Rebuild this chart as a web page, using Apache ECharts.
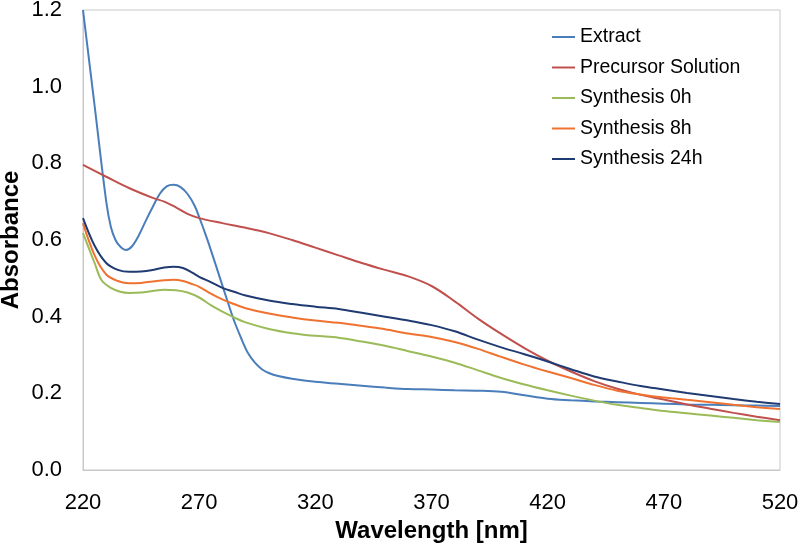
<!DOCTYPE html>
<html>
<head>
<meta charset="utf-8">
<script src="https://cdn.jsdelivr.net/npm/echarts@6/dist/echarts.min.js"></script>
<style>html,body{margin:0;padding:0;background:#fff}#c{width:800px;height:546px}</style>
</head>
<body>
<div id="c"></div>
<script>
var seriesNames = ["Extract", "Precursor Solution", "Synthesis 0h", "Synthesis 8h", "Synthesis 24h"];
var xTicks = [220, 270, 320, 370, 420, 470, 520];
var yTicks = [0.0, 0.2, 0.4, 0.6, 0.8, 1.0, 1.2];

var extractWl = [220,225,230,232,234,236,238.5,241,244,247,250,253,256,259,262,265,268,270,273,276,279,282,285,288,291,294,297,300,304,310,320,330,340,350,360,370,380,390,400,410,420,430,440,450,460,470,480,490,500,510,520];
var extractAbs = [1.2,0.95,0.70,0.634,0.60,0.583,0.574,0.583,0.612,0.65,0.686,0.72,0.74,0.744,0.738,0.72,0.69,0.66,0.61,0.556,0.50,0.444,0.39,0.345,0.305,0.28,0.263,0.253,0.245,0.238,0.23,0.225,0.22,0.215,0.211,0.21,0.208,0.207,0.204,0.195,0.186,0.182,0.179,0.177,0.175,0.173,0.171,0.17,0.169,0.168,0.167];

var precursorWl = [220,230,240,250,255,260,265,270,280,290,300,310,320,330,340,350,360,370,380,390,400,410,420,430,440,450,460,470,480,490,500,510,520];
var precursorAbs = [0.796,0.765,0.735,0.71,0.70,0.685,0.668,0.657,0.644,0.632,0.618,0.60,0.58,0.56,0.54,0.522,0.505,0.48,0.44,0.395,0.355,0.318,0.285,0.257,0.232,0.212,0.196,0.184,0.171,0.16,0.149,0.139,0.13];

var s0Wl = [220,225,228,232,236,240,245,250,255,260,265,270,275,280,285,290,300,310,320,330,340,350,360,370,380,390,400,410,420,430,440,450,460,470,480,490,500,510,520];
var s0Abs = [0.618,0.54,0.495,0.475,0.465,0.462,0.463,0.467,0.47,0.469,0.463,0.45,0.43,0.413,0.398,0.385,0.368,0.357,0.35,0.345,0.335,0.324,0.31,0.296,0.28,0.26,0.24,0.223,0.208,0.194,0.181,0.17,0.162,0.154,0.148,0.142,0.136,0.13,0.125];

var s8Wl = [220,225,230,235,240,245,250,255,259,263,267,270,275,280,285,290,300,310,320,330,340,350,360,370,380,390,400,410,420,430,440,450,460,470,480,490,500,510,520];
var s8Abs = [0.644,0.56,0.51,0.493,0.487,0.488,0.492,0.495,0.496,0.493,0.485,0.478,0.46,0.445,0.433,0.422,0.408,0.398,0.39,0.384,0.376,0.367,0.356,0.347,0.334,0.316,0.295,0.275,0.257,0.24,0.222,0.207,0.197,0.189,0.183,0.177,0.17,0.164,0.159];

var s24Wl = [220,225,230,235,240,245,250,255,259,263,267,270,275,280,285,290,300,310,320,330,340,350,360,370,380,390,400,410,420,430,440,450,460,470,480,490,500,510,520];
var s24Abs = [0.657,0.585,0.54,0.522,0.517,0.518,0.522,0.528,0.53,0.527,0.515,0.504,0.49,0.475,0.465,0.455,0.442,0.433,0.426,0.42,0.41,0.40,0.39,0.378,0.362,0.34,0.32,0.302,0.283,0.263,0.244,0.231,0.219,0.21,0.201,0.193,0.185,0.178,0.172];

var colors = ["#4a7ebb", "#c0504d", "#9bbb59", "#ef7230", "#1f3b72"];
var wls = [extractWl, precursorWl, s0Wl, s8Wl, s24Wl];
var abss = [extractAbs, precursorAbs, s0Abs, s8Abs, s24Abs];

function pairs(x, y) { return x.map(function (v, i) { return [v, y[i]]; }); }

var font = "Liberation Sans, Arial, sans-serif";
var chart = echarts.init(document.getElementById('c'), null, {renderer: 'canvas'});
chart.setOption({
  animation: false,
  backgroundColor: '#fff',
  grid: {left: 83, right: 20, top: 10, bottom: 76, show: true, borderColor: '#c8c8c8', borderWidth: 1, containLabel: false, outerBoundsMode: 'none'},
  legend: {
    orient: 'vertical', left: 552, top: 27, padding: 0, itemWidth: 23, itemHeight: 2, itemGap: 10.5, icon: 'rect',
    textStyle: {fontFamily: font, fontSize: 19.5, color: '#000', lineHeight: 20},
    data: seriesNames
  },
  xAxis: {
    type: 'value', min: xTicks[0], max: xTicks[xTicks.length - 1], interval: 50,
    name: 'Wavelength [nm]', nameLocation: 'middle', nameGap: 49, nameMoveOverlap: false,
    nameTextStyle: {fontFamily: font, fontSize: 24, fontWeight: 'bold', color: '#000'},
    axisLine: {show: true, lineStyle: {color: '#c8c8c8'}}, axisTick: {show: false},
    axisLabel: {fontFamily: font, fontSize: 22, color: '#000', margin: 22},
    splitLine: {show: false}
  },
  yAxis: {
    type: 'value', min: yTicks[0], max: yTicks[yTicks.length - 1], interval: 0.2,
    name: 'Absorbance', nameLocation: 'middle', nameGap: 60, nameMoveOverlap: false,
    nameTextStyle: {fontFamily: font, fontSize: 24, fontWeight: 'bold', color: '#000'},
    axisLine: {show: true, lineStyle: {color: '#c8c8c8'}}, axisTick: {show: false},
    axisLabel: {fontFamily: font, fontSize: 22, color: '#000', margin: 21, formatter: function (v) { return v.toFixed(1); }},
    splitLine: {show: false}
  },
  series: seriesNames.map(function (n, i) {
    return {
      name: n, type: 'line', data: pairs(wls[i], abss[i]), showSymbol: false, symbol: 'none',
      smooth: 0.35,
      lineStyle: {width: 2, color: colors[i]}, itemStyle: {color: colors[i]}
    };
  })
});
</script>
</body>
</html>
